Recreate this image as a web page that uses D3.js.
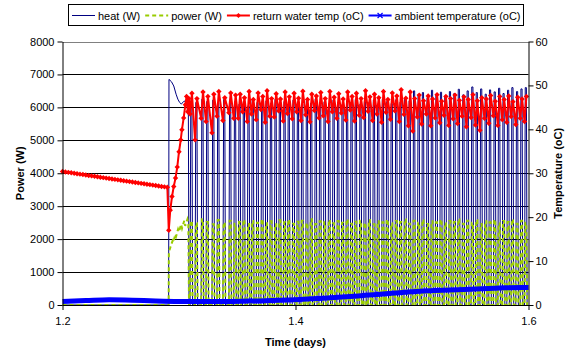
<!DOCTYPE html>
<html>
<head>
<meta charset="utf-8">
<script src="https://cdn.jsdelivr.net/npm/d3@7"></script>
<style>
  body { margin: 0; background: #fff; }
  svg { display: block; font-family: "Liberation Sans", Arial, sans-serif; }
</style>
</head>
<body>
<svg id="chart" width="568" height="349"></svg>
<script>
// ---- data ----
const seriesNames = ["heat (W)", "power (W)", "return water temp (oC)", "ambient temperature (oC)"];
const timeTicks = [1.2, 1.4, 1.6];
const powerTicks = [0, 1000, 2000, 3000, 4000, 5000, 6000, 7000, 8000];
const tempTicks = [0, 10, 20, 30, 40, 50, 60];

// start-up part (before the on/off cycling begins)
const heatStartT = [1.2, 1.2911, 1.2914, 1.2935, 1.2955, 1.2975, 1.2990, 1.3005, 1.3020, 1.3040, 1.3060, 1.3080, 1.3086];
const heatStartW = [0, 0, 6850, 6780, 6650, 6400, 6250, 6150, 6100, 6180, 6200, 6150, 0];
const powerStartT = [1.2, 1.2911, 1.2913, 1.2930, 1.2945, 1.2952, 1.2968, 1.2975, 1.2992, 1.3000, 1.3018, 1.3026, 1.3045, 1.3053, 1.3072, 1.3080, 1.3086];
const powerStartW = [0, 0, 1600, 1800, 1950, 1900, 2150, 2080, 2300, 2220, 2450, 2330, 2560, 2400, 2600, 2450, 0];
const returnStartT = [1.2000, 1.2025, 1.2050, 1.2075, 1.2100, 1.2125, 1.2150, 1.2175, 1.2200, 1.2225,
  1.2250, 1.2275, 1.2300, 1.2325, 1.2350, 1.2375, 1.2400, 1.2425, 1.2450, 1.2475,
  1.2500, 1.2525, 1.2550, 1.2575, 1.2600, 1.2625, 1.2650, 1.2675, 1.2700, 1.2725,
  1.2750, 1.2775, 1.2800, 1.2825, 1.2850, 1.2875, 1.2900, 1.2912,
  1.2925, 1.2940, 1.2955, 1.2970, 1.2985, 1.3000, 1.3015, 1.3025, 1.3040, 1.3055, 1.3065, 1.3075, 1.3085];
const returnStartC = [30.4, 30.3, 30.2, 30.1, 30.0, 29.9, 29.8, 29.7, 29.6, 29.5,
  29.4, 29.3, 29.2, 29.1, 29.0, 28.9, 28.8, 28.7, 28.6, 28.5,
  28.4, 28.3, 28.2, 28.1, 28.0, 27.9, 27.8, 27.7, 27.6, 27.5,
  27.4, 27.3, 27.2, 27.1, 27.0, 26.9, 26.8, 17.0,
  21.6, 24.7, 27.0, 28.9, 31.4, 34.9, 37.6, 39.9, 42.6, 45.6, 47.5, 44.0, 47.0];

// heating cycles: switch-on time and peak of each
const cycleOn = [1.3095, 1.3138, 1.3190, 1.3232, 1.3283, 1.3326, 1.3377, 1.3428, 1.3470,
  1.3509, 1.3546, 1.3586, 1.3622, 1.3663, 1.3703, 1.3740, 1.3779, 1.3818, 1.3855,
  1.3895, 1.3931, 1.3972, 1.4010, 1.4047, 1.4087, 1.4124, 1.4163, 1.4201, 1.4239,
  1.4279, 1.4316, 1.4355, 1.4393, 1.4432, 1.4470, 1.4507, 1.4547, 1.4585, 1.4623,
  1.4662, 1.4699, 1.4739, 1.4777, 1.4815, 1.4854, 1.4891, 1.4931, 1.4969, 1.5007,
  1.5046, 1.5083, 1.5123, 1.5161, 1.5199, 1.5238, 1.5275, 1.5315, 1.5353, 1.5391,
  1.5430, 1.5467, 1.5507, 1.5545, 1.5583, 1.5622, 1.5659, 1.5699, 1.5737, 1.5775,
  1.5814, 1.5851, 1.5891, 1.5929, 1.5966];
const heatPeak = [6200, 6150, 6250, 6180, 6220, 6150, 6240, 6200, 6170,
  6100, 6180, 6050, 6220, 6150, 6080, 6200, 6120, 6250, 6100,
  6180, 6060, 6220, 6150, 6100, 6200, 6130, 6260, 6080, 6170,
  6120, 6230, 6150, 6090, 6200, 6160, 6240, 6100, 6180, 6150,
  6220, 6100, 6250, 6180, 6120, 6230, 6160, 6280, 6200, 6500,
  6380, 6450, 6300, 6520, 6400, 6460, 6350, 6480, 6420, 6550,
  6380, 6500, 6620, 6450, 6560, 6400, 6530, 6470, 6580, 6420,
  6520, 6600, 6480, 6560, 6600];
const powerPeak = [2550, 2480, 2600, 2520, 2450, 2580, 2500, 2560, 2470,
  2520, 2580, 2460, 2550, 2500, 2600, 2480, 2540, 2450, 2570,
  2510, 2590, 2470, 2530, 2560, 2490, 2600, 2460, 2540, 2510,
  2580, 2480, 2550, 2500, 2600, 2470, 2530, 2560, 2490, 2580,
  2450, 2540, 2510, 2590, 2480, 2550, 2520, 2600, 2470, 2560,
  2500, 2580, 2460, 2540, 2510, 2590, 2480, 2550, 2520, 2600,
  2470, 2560, 2500, 2580, 2460, 2540, 2510, 2590, 2480, 2550,
  2520, 2600, 2470, 2560, 2500];
const returnLow = [43.5, 37.6, 42.5, 41.8, 39.2, 43.0, 42.0, 43.8, 42.5,
  42.5, 44.0, 41.8, 43.5, 42.2, 44.5, 41.6, 43.0, 42.8, 44.2,
  41.9, 43.6, 42.4, 44.0, 42.0, 43.3, 41.7, 44.3, 42.6, 43.1,
  41.8, 44.0, 42.5, 43.7, 42.1, 44.4, 41.9, 43.2, 42.7, 44.1,
  42.0, 43.5, 41.6, 43.9, 42.3, 44.2, 41.8, 43.4, 40.8, 39.6,
  42.8, 41.2, 43.5, 40.8, 42.6, 41.5, 43.2, 40.9, 42.4, 41.3,
  43.0, 40.6, 42.7, 41.0, 39.8, 42.5, 41.4, 43.1, 40.9, 42.2,
  41.6, 42.9, 41.1, 42.5, 41.8];
const returnHigh = [48.2, 47.0, 48.5, 47.5, 48.0, 48.6, 47.2, 48.3, 47.8,
  48.0, 47.2, 48.6, 46.8, 48.3, 47.5, 48.8, 47.0, 48.1, 46.9,
  48.5, 47.4, 48.2, 47.1, 48.7, 46.8, 48.0, 47.6, 48.4, 47.0,
  48.6, 47.3, 48.1, 46.9, 48.5, 47.5, 48.2, 47.0, 48.8, 47.4,
  48.0, 47.2, 48.6, 46.8, 48.3, 47.6, 49.0, 47.1, 48.5, 47.0,
  47.8, 46.5, 47.6, 46.9, 47.9, 46.4, 47.5, 47.0, 47.8, 46.6,
  47.4, 46.8, 47.9, 46.5, 47.2, 46.9, 47.7, 46.4, 47.5, 46.8,
  47.6, 46.3, 47.3, 46.9, 47.5];

const ambientT = [1.20, 1.22, 1.24, 1.26, 1.28, 1.30, 1.32, 1.34, 1.36, 1.38, 1.40, 1.42, 1.44, 1.46, 1.48, 1.50, 1.52, 1.54, 1.56, 1.58, 1.60];
const ambientC = [0.8, 1.0, 1.2, 1.1, 0.9, 0.8, 0.8, 0.8, 0.9, 1.0, 1.2, 1.5, 1.8, 2.2, 2.6, 3.0, 3.3, 3.5, 3.7, 3.9, 4.0];

const colors = ["#000080", "#99CC00", "#FF0000", "#0000FF"];

// ---- build the series ----
const heatData = heatStartT.map((t, i) => ({ t, v: heatStartW[i] }));
const powerData = powerStartT.map((t, i) => ({ t, v: powerStartW[i] }));
const returnData = returnStartT.map((t, i) => ({ t, v: returnStartC[i] }));
cycleOn.forEach((t, i) => {
  heatData.push({ t, v: 0 }, { t: t + 0.0006, v: heatPeak[i] }, { t: t + 0.0016, v: heatPeak[i] }, { t: t + 0.0022, v: 0 });
  powerData.push({ t, v: 0 }, { t: t + 0.0006, v: powerPeak[i] }, { t: t + 0.0016, v: powerPeak[i] }, { t: t + 0.0022, v: 0 });
  returnData.push({ t, v: returnLow[i] }, { t: t + 0.0016, v: returnHigh[i] });
});
const ambientData = ambientT.map((t, i) => ({ t, v: ambientC[i] }));

// ---- chart ----
const svg = d3.select("#chart");
const margin = { top: 41.5, right: 39.5, bottom: 44, left: 62.5 };
const width = 568, height = 349;

const x = d3.scaleLinear().domain([1.2, 1.6]).range([margin.left, width - margin.right]);
const yPow = d3.scaleLinear().domain([0, 8000]).range([height - margin.bottom, margin.top]);
const yTemp = d3.scaleLinear().domain([0, 60]).range([height - margin.bottom, margin.top]);

// gridlines
svg.append("g")
  .selectAll("line")
  .data(powerTicks.slice(1))
  .join("line")
  .attr("x1", margin.left).attr("x2", width - margin.right)
  .attr("y1", d => Math.round(yPow(d)) + 0.5).attr("y2", d => Math.round(yPow(d)) + 0.5)
  .attr("stroke", d => d === 8000 ? "#808080" : "#000")
  .attr("stroke-width", 1);

const plot = svg.append("g");

const lineP = d3.line().x(d => x(d.t)).y(d => yPow(d.v));
const lineT = d3.line().x(d => x(d.t)).y(d => yTemp(d.v));

plot.append("path").datum(heatData)
  .attr("fill", "none").attr("stroke", colors[0]).attr("stroke-width", 1)
  .attr("d", lineP);

plot.append("path").datum(powerData)
  .attr("fill", "none").attr("stroke", colors[1]).attr("stroke-width", 2)
  .attr("stroke-dasharray", "4,3")
  .attr("d", lineP);

plot.append("path").datum(returnData)
  .attr("fill", "none").attr("stroke", colors[2]).attr("stroke-width", 2)
  .attr("d", lineT);

// square-ish diamond marker like the spreadsheet one
const diamondPath = r => `M0,${-r}L${r},0L0,${r}L${-r},0Z`;
plot.append("g").selectAll("path")
  .data(returnData)
  .join("path")
  .attr("transform", d => `translate(${x(d.t)},${yTemp(d.v)})`)
  .attr("d", diamondPath(2.7))
  .attr("fill", colors[2]);

plot.append("path").datum(ambientData)
  .attr("fill", "none").attr("stroke", colors[3]).attr("stroke-width", 5)
  .attr("stroke-linejoin", "round")
  .attr("d", d3.line().x(d => x(d.t)).y(d => yTemp(d.v)).curve(d3.curveMonotoneX));

// axes
const axisFont = g => g.selectAll("text").attr("font-size", 11).attr("fill", "#000")
  .attr("font-family", "'Liberation Sans', Arial, sans-serif");

svg.append("g")
  .attr("transform", `translate(${margin.left},0)`)
  .call(d3.axisLeft(yPow).tickValues(powerTicks).tickFormat(d3.format("d")).tickSize(5).tickPadding(3).tickSizeOuter(0))
  .call(axisFont);

svg.append("g")
  .attr("transform", `translate(${width - margin.right},0)`)
  .call(d3.axisRight(yTemp).tickValues(tempTicks).tickFormat(d3.format("d")).tickSize(5).tickPadding(2).tickSizeOuter(0))
  .call(axisFont);

svg.append("g")
  .attr("transform", `translate(0,${height - margin.bottom})`)
  .call(d3.axisBottom(x).tickValues(timeTicks).tickFormat(d3.format(".1f")).tickSize(5).tickPadding(7).tickSizeOuter(0))
  .call(axisFont);

// axis titles
svg.append("text")
  .attr("transform", `translate(20,${(margin.top + height - margin.bottom) / 2}) rotate(-90)`)
  .attr("text-anchor", "middle").attr("dominant-baseline", "central")
  .attr("font-size", 11).attr("font-weight", "bold")
  .text("Power (W)");

svg.append("text")
  .attr("transform", `translate(558,${(margin.top + height - margin.bottom) / 2}) rotate(-90)`)
  .attr("text-anchor", "middle").attr("dominant-baseline", "central")
  .attr("font-size", 11).attr("font-weight", "bold")
  .text("Temperature (oC)");

svg.append("text")
  .attr("x", (margin.left + width - margin.right) / 2).attr("y", 342)
  .attr("text-anchor", "middle").attr("dominant-baseline", "central")
  .attr("font-size", 11).attr("font-weight", "bold")
  .text("Time (days)");

// legend
const legend = svg.append("g");
legend.append("rect")
  .attr("x", 68.5).attr("y", 4.5).attr("width", 455).attr("height", 21)
  .attr("fill", "#fff").attr("stroke", "#000");

let lx = 72;
seriesNames.forEach((name, i) => {
  const g = legend.append("g");
  const line = g.append("line")
    .attr("x1", lx).attr("x2", lx + 23).attr("y1", 15.5).attr("y2", 15.5)
    .attr("stroke", colors[i]).attr("stroke-width", i === 0 ? 1 : 2);
  if (i === 1) line.attr("stroke-dasharray", "4,3");
  if (i === 2) {
    g.append("path").attr("transform", `translate(${lx + 11.5},15.5)`)
      .attr("d", diamondPath(2.5)).attr("fill", colors[2]);
  }
  if (i === 3) {
    g.append("path").attr("transform", `translate(${lx + 11.5},15.5)`)
      .attr("d", "M-2.5,-2.5L2.5,2.5M-2.5,2.5L2.5,-2.5")
      .attr("stroke", colors[3]).attr("stroke-width", 1.2);
  }
  const txt = g.append("text")
    .attr("x", lx + 26).attr("y", 15.5)
    .attr("dominant-baseline", "central")
    .attr("font-size", 11)
    .text(name);
  lx += 26 + txt.node().getComputedTextLength() + 5;
});
</script>
</body>
</html>
